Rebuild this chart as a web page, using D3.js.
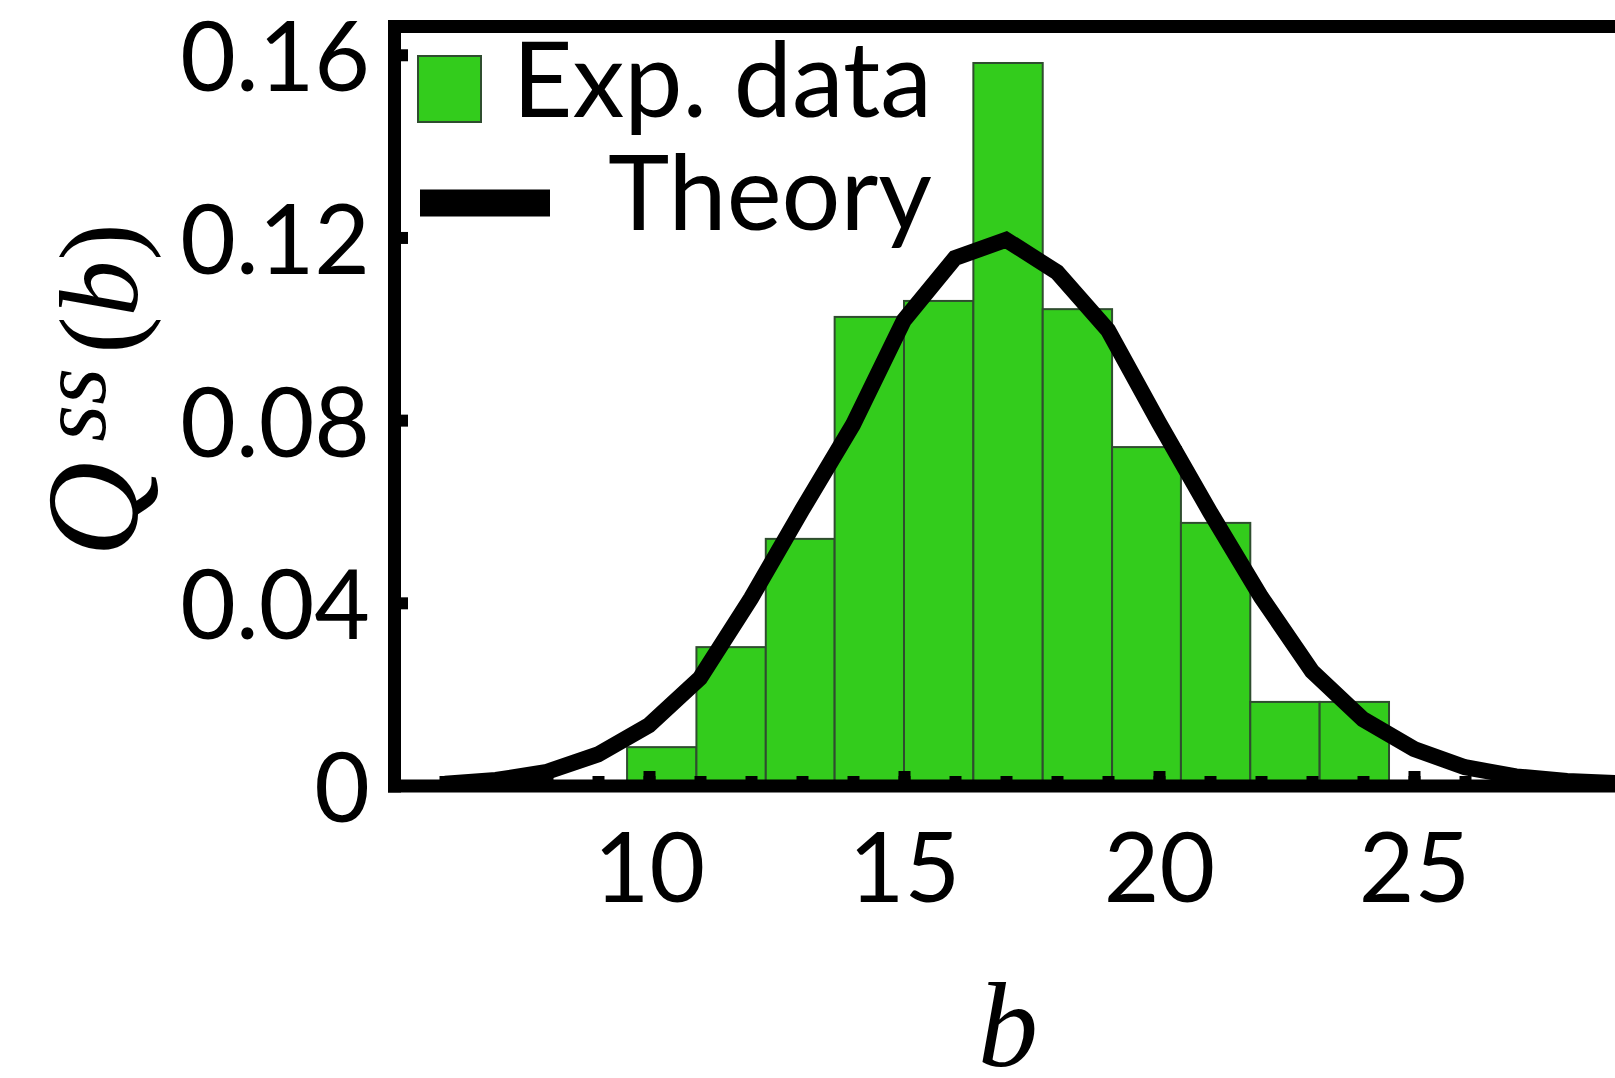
<!DOCTYPE html>
<html>
<head>
<meta charset="utf-8">
<script src="https://cdn.jsdelivr.net/npm/d3@7.9.0/dist/d3.min.js"></script>
<style>
  body { margin: 0; background: #fff; }
  svg { display: block; }
  .axis text { font-family: Lato, sans-serif; font-size: 96px; fill: #000; }
  .axis .domain { stroke: #000; stroke-width: 13; stroke-linecap: square; }
  .axis line { stroke: #000; stroke-width: 12; }
  .legend text { font-family: Lato, sans-serif; font-size: 104px; fill: #000; }
</style>
</head>
<body>
<svg id="chart" width="1615" height="1078"></svg>
<script>
// histogram bin edges (12 edges -> 11 bins) and normalised heights
const binEdges = [9.57, 10.93, 12.29, 13.64, 15.00, 16.36, 17.72, 19.08, 20.43, 21.79, 23.15, 24.51];
const expValues = [0.0084, 0.0303, 0.0540, 0.1026, 0.1061, 0.1582, 0.1043, 0.0741, 0.0575, 0.0183, 0.0183];

// theory curve, one point per integer b
const theoryB = [6, 7, 8, 9, 10, 11, 12, 13, 14, 15, 16, 17, 18, 19, 20, 21, 22, 23, 24, 25, 26, 27, 28, 29];
const theoryQ = [0.0004, 0.0012, 0.0030, 0.0068, 0.0132, 0.0235, 0.0410, 0.0603, 0.0790, 0.1019, 0.1155, 0.1195,
                 0.1124, 0.0997, 0.0794, 0.0599, 0.0413, 0.0250, 0.0145, 0.0080, 0.0040, 0.0020, 0.0010, 0.0005];

const xTicks = [10, 15, 20, 25];
const xMinorTicks = d3.range(6, 29);
const yTicks = [0, 0.04, 0.08, 0.12, 0.16];
const legendLabels = ['Exp. data', 'Theory'];

const green = '#33cc1c';

const svg = d3.select('#chart');

const x = d3.scaleLinear().domain([5, 29]).range([394, 1618]);
const y = d3.scaleLinear().domain([0, 0.1663]).range([785.5, 26]);

// bars
svg.append('g')
  .selectAll('rect')
  .data(expValues)
  .join('rect')
  .attr('x', (d, i) => x(binEdges[i]))
  .attr('width', (d, i) => x(binEdges[i + 1]) - x(binEdges[i]))
  .attr('y', d => y(d))
  .attr('height', d => y(0) - y(d))
  .attr('fill', green)
  .attr('stroke', '#2f4d2f')
  .attr('stroke-width', 2);

// minor ticks on the bottom axis (every integer)
svg.append('g')
  .attr('class', 'axis')
  .attr('transform', `translate(0,${y(0)})`)
  .call(d3.axisBottom(x).tickValues(xMinorTicks).tickSize(-9.5).tickSizeOuter(0).tickFormat(''))
  .call(g => g.select('.domain').remove());

// bottom axis with major ticks
svg.append('g')
  .attr('class', 'axis')
  .attr('transform', `translate(0,${y(0)})`)
  .call(d3.axisBottom(x).tickValues(xTicks).tickSize(-14.5).tickSizeOuter(0).tickFormat(d3.format('d')))
  .call(g => g.selectAll('text').attr('y', 116.5).attr('dy', null));

// left axis
svg.append('g')
  .attr('class', 'axis')
  .attr('transform', `translate(${x(5)},0)`)
  .call(d3.axisLeft(y).tickValues(yTicks).tickSize(-14).tickSizeOuter(0).tickPadding(24)
    .tickFormat(d => d === 0 ? '0' : d3.format('.2f')(d)))
  .call(g => g.selectAll('text').attr('y', 36).attr('dy', null));

// top frame
svg.append('g')
  .attr('class', 'axis')
  .attr('transform', `translate(0,${y(0.1663)})`)
  .call(d3.axisTop(x).tickValues([]).tickSizeOuter(0));

// theory curve
const line = d3.line().x(d => x(d[0])).y(d => y(d[1]));
svg.append('path')
  .datum(d3.zip(theoryB, theoryQ))
  .attr('d', line)
  .attr('fill', 'none')
  .attr('stroke', '#000')
  .attr('stroke-width', 16)
  .attr('stroke-linejoin', 'miter');

// legend
const legend = svg.append('g').attr('class', 'legend');
legend.append('rect')
  .attr('x', 418).attr('y', 56).attr('width', 63).attr('height', 66)
  .attr('fill', green).attr('stroke', '#2f4d2f').attr('stroke-width', 2);
legend.append('line')
  .attr('x1', 420).attr('x2', 550).attr('y1', 203).attr('y2', 203)
  .attr('stroke', '#000').attr('stroke-width', 27);
legend.selectAll('text')
  .data(legendLabels)
  .join('text')
  .attr('x', 932)
  .attr('y', (d, i) => [117, 230][i])
  .attr('text-anchor', 'end')
  .text(d => d);

// axis titles
svg.append('text')
  .attr('x', 1008).attr('y', 1066)
  .attr('text-anchor', 'middle')
  .style('font-family', '"Liberation Serif", serif')
  .style('font-style', 'italic')
  .style('font-size', '120px')
  .text('b');

const yTitle = svg.append('text')
  .attr('transform', 'translate(137,557) rotate(-90)')
  .attr('text-anchor', 'start')
  .style('font-family', '"Liberation Serif", serif')
  .style('font-size', '132px');
yTitle.append('tspan').style('font-style', 'italic').text('Q');
yTitle.append('tspan').style('font-style', 'italic').style('font-size', '95px')
  .attr('dx', 20).attr('dy', -32).text('ss');
yTitle.append('tspan').style('font-size', '112px').attr('dy', 32).attr('dx', 14).text('(');
yTitle.append('tspan').style('font-size', '112px').style('font-style', 'italic').text('b');
yTitle.append('tspan').style('font-size', '112px').text(')');
</script>
</body>
</html>
